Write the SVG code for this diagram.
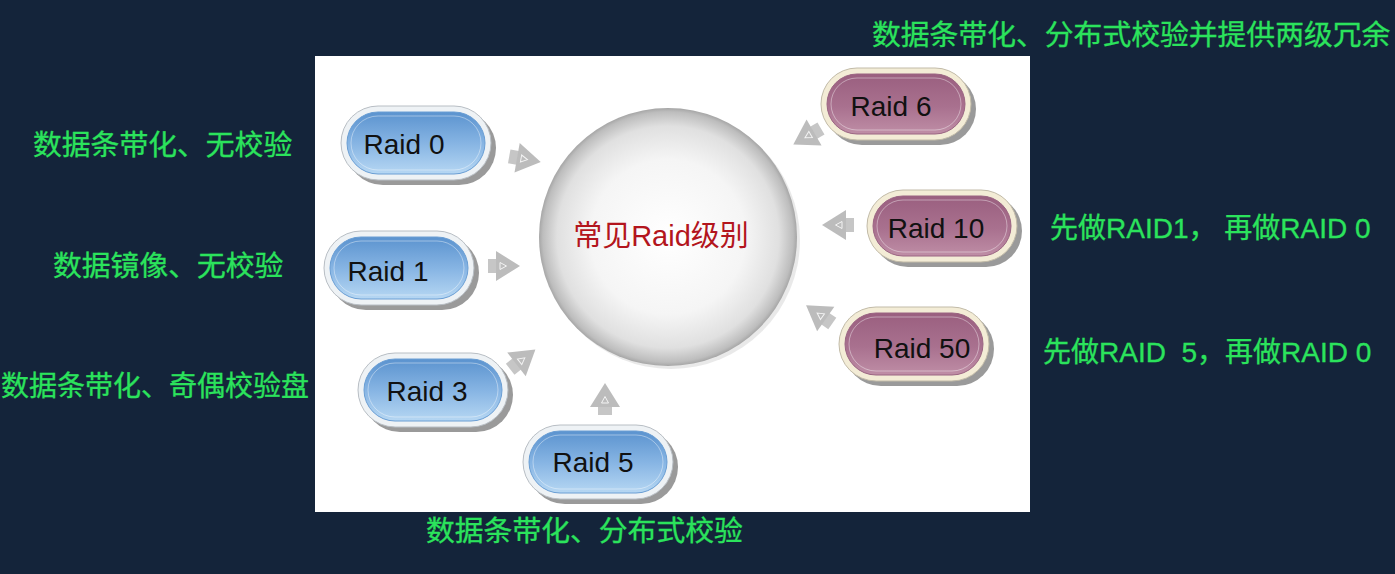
<svg xmlns="http://www.w3.org/2000/svg" xmlns:xlink="http://www.w3.org/1999/xlink" width="1395" height="574" viewBox="0 0 1395 574">
<defs>
<style>
.lbl{font-family:"Liberation Sans","Noto Sans CJK SC",sans-serif;font-size:28.8px;fill:#2be35c;white-space:pre;stroke:#2be35c;stroke-width:0.3}
.lbl2{font-size:28px}
.ptxt{font-family:"Liberation Sans",Arial,sans-serif;font-size:28px;fill:#111;text-anchor:middle}
.shadow{fill:#9a9a9a}
.rimB{fill:#eef2f5;stroke:#b8bec4;stroke-width:1}
.rimP{fill:#f3ecd6;stroke:#c2bba8;stroke-width:1}
.inB{fill:url(#gB);stroke:#6a9ed4;stroke-width:1}
.inP{fill:url(#gP);stroke:#9a6482;stroke-width:1}
.hl{fill:none;stroke:#ffffff;stroke-opacity:0.4;stroke-width:1}
</style>
<linearGradient id="gB" x1="0" y1="0" x2="0" y2="1">
<stop offset="0" stop-color="#5b93cf"/>
<stop offset="0.5" stop-color="#86b4e3"/>
<stop offset="1" stop-color="#b6d7f3"/>
</linearGradient>
<linearGradient id="gP" x1="0" y1="0" x2="0" y2="1">
<stop offset="0" stop-color="#9a5f7f"/>
<stop offset="0.55" stop-color="#a9718f"/>
<stop offset="1" stop-color="#bf8ea6"/>
</linearGradient>
<radialGradient id="gC" cx="0.5" cy="0.5" r="0.5">
<stop offset="0" stop-color="#ffffff"/>
<stop offset="0.6" stop-color="#f5f5f5"/>
<stop offset="0.86" stop-color="#e0e0e0"/>
<stop offset="0.97" stop-color="#bdbdbd"/>
<stop offset="1" stop-color="#a6a6a6"/>
</radialGradient>
<g id="arr">
<rect x="-15" y="-7" width="10" height="14" fill="#c6c6c6"/>
<polygon points="-7,-15 -7,15 17,0" fill="#bcbcbc"/>
<polygon points="-3,-3.5 -3,3.5 3.5,0" fill="none" stroke="#f4f4f4" stroke-width="1"/>
</g>
</defs>
<rect x="0" y="0" width="1395" height="574" fill="#14243a"/>
<rect x="315" y="56" width="715" height="456" fill="#ffffff"/>

<g id="center">
<circle cx="671" cy="240" r="129" fill="#cfcfcf" opacity="0.45"/>
<circle cx="668" cy="237" r="129" fill="url(#gC)"/>
<text x="661" y="246" font-family="'Liberation Sans','Noto Sans CJK SC',sans-serif" font-size="29" fill="#b3151d" text-anchor="middle">常见Raid级别</text>
</g>

<g id="connectors">
<use xlink:href="#arr" transform="translate(524,159) rotate(10)"/>
<use xlink:href="#arr" transform="translate(503,266)"/>
<use xlink:href="#arr" transform="translate(522,360) rotate(-38)"/>
<use xlink:href="#arr" transform="translate(605,400) rotate(-90)"/>
<use xlink:href="#arr" transform="translate(808,136) rotate(150)"/>
<use xlink:href="#arr" transform="translate(839,225) rotate(180)"/>
<use xlink:href="#arr" transform="translate(820,315) rotate(-145)"/>
</g>

<g id="raid0">
<rect class="shadow" x="346" y="111" width="150" height="74" rx="37"/>
<rect class="rimB" x="341" y="106" width="150" height="74" rx="37"/>
<rect class="inB" x="347" y="112" width="138" height="62" rx="31"/>
<rect class="hl" x="351" y="116" width="130" height="54" rx="27"/>
<text class="ptxt" x="404" y="154">Raid 0</text>
</g>
<g id="raid1">
<rect class="shadow" x="329" y="236" width="150" height="74" rx="37"/>
<rect class="rimB" x="324" y="231" width="150" height="74" rx="37"/>
<rect class="inB" x="330" y="237" width="138" height="62" rx="31"/>
<rect class="hl" x="334" y="241" width="130" height="54" rx="27"/>
<text class="ptxt" x="388" y="281">Raid 1</text>
</g>
<g id="raid3">
<rect class="shadow" x="363" y="358" width="150" height="74" rx="37"/>
<rect class="rimB" x="358" y="353" width="150" height="74" rx="37"/>
<rect class="inB" x="364" y="359" width="138" height="62" rx="31"/>
<rect class="hl" x="368" y="363" width="130" height="54" rx="27"/>
<text class="ptxt" x="427" y="401">Raid 3</text>
</g>
<g id="raid5">
<rect class="shadow" x="528" y="430" width="150" height="74" rx="37"/>
<rect class="rimB" x="523" y="425" width="150" height="74" rx="37"/>
<rect class="inB" x="529" y="431" width="138" height="62" rx="31"/>
<rect class="hl" x="533" y="435" width="130" height="54" rx="27"/>
<text class="ptxt" x="593" y="472">Raid 5</text>
</g>
<g id="raid6">
<rect class="shadow" x="826" y="73" width="150" height="72" rx="36"/>
<rect class="rimP" x="821" y="68" width="150" height="72" rx="36"/>
<rect class="inP" x="827" y="74" width="138" height="60" rx="30"/>
<rect class="hl" x="831" y="78" width="130" height="52" rx="26"/>
<text class="ptxt" x="891" y="116">Raid 6</text>
</g>
<g id="raid10">
<rect class="shadow" x="872" y="195" width="150" height="72" rx="36"/>
<rect class="rimP" x="867" y="190" width="150" height="72" rx="36"/>
<rect class="inP" x="873" y="196" width="138" height="60" rx="30"/>
<rect class="hl" x="877" y="200" width="130" height="52" rx="26"/>
<text class="ptxt" x="936" y="238">Raid 10</text>
</g>
<g id="raid50">
<rect class="shadow" x="844" y="312" width="150" height="74" rx="37"/>
<rect class="rimP" x="839" y="307" width="150" height="74" rx="37"/>
<rect class="inP" x="845" y="313" width="138" height="62" rx="31"/>
<rect class="hl" x="849" y="317" width="130" height="54" rx="27"/>
<text class="ptxt" x="922" y="358">Raid 50</text>
</g>

<g id="labels">
<text class="lbl" x="33" y="155">数据条带化、无校验</text>
<text class="lbl" x="53" y="276">数据镜像、无校验</text>
<text class="lbl lbl2" x="1" y="396">数据条带化、奇偶校验盘</text>
<text class="lbl" x="426" y="541">数据条带化、分布式校验</text>
<text class="lbl" x="872" y="45">数据条带化、分布式校验并提供两级冗余</text>
<text class="lbl lbl2" x="1050" y="238">先做RAID1， 再做RAID 0</text>
<text class="lbl lbl2" x="1043" y="362">先做RAID  5，再做RAID 0</text>
</g>
</svg>
